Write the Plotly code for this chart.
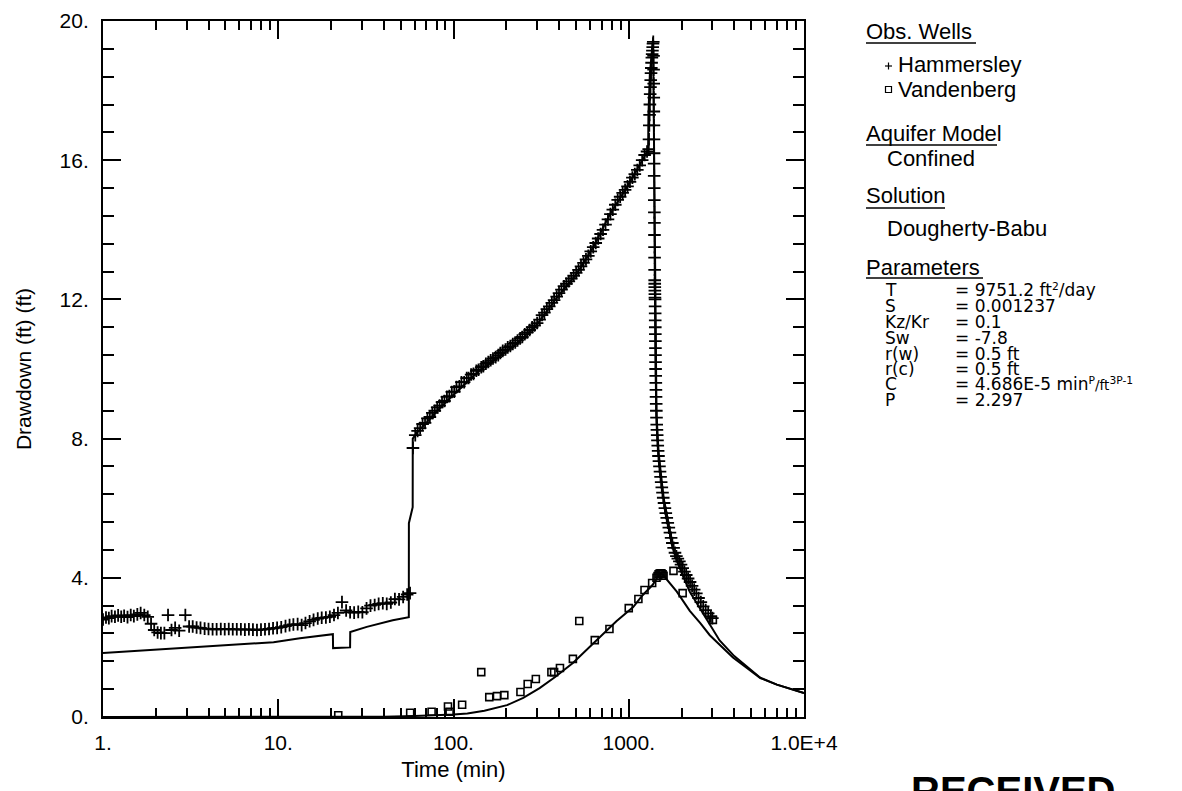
import plotly.graph_objects as go

# ---------------- data ----------------
ham_t = [1.00, 1.04, 1.08, 1.12, 1.17, 1.22, 1.27, 1.32, 1.38, 1.44, 1.50, 1.57, 1.64, 1.72, 1.80,
         1.88, 1.96, 2.05, 2.14, 2.24, 2.35, 2.46, 2.58, 2.72, 2.95, 3.10, 3.25, 3.42, 3.60, 3.80,
         4.00, 4.22, 4.45, 4.70, 4.95, 5.22, 5.50, 5.80, 6.12, 6.45, 6.80, 7.17, 7.56, 7.97, 8.40,
         8.86, 9.34, 9.85, 10.4, 11.0, 11.6, 12.2, 12.9, 13.6, 14.3, 15.1, 15.9, 16.8, 17.7, 18.7,
         19.7, 20.8, 21.9, 23.1, 24.4, 25.7, 27.1, 28.6, 30.2, 31.9, 33.6, 35.5, 37.4, 39.5, 41.6,
         43.9, 46.3, 48.9, 51.6, 54.4, 56.5,
         58.7, 60.5, 62.4, 64.5, 66.6, 68.8, 71.0, 73.3, 75.7, 78.2, 80.7, 83.3, 86.0, 88.8, 91.7,
         94.7, 97.8, 101, 104, 108, 111, 115, 119, 122, 126, 130, 135, 139, 144, 148, 153, 158,
         163, 168, 174, 180, 185, 191, 198, 204, 211, 218, 225, 232, 240, 247, 255, 264, 272, 281,
         290, 300, 310, 320, 330, 341, 352, 364, 375, 388, 400, 413, 427, 441, 455, 470, 485, 501,
         517, 534, 552, 570, 588, 607, 627, 648, 669, 691, 713, 737, 761, 786, 811, 838, 865, 893,
         923, 953, 984, 1016, 1049, 1083, 1119, 1155, 1193, 1232, 1272, 1300,
         1305, 1310, 1315, 1320, 1325, 1330, 1335, 1340, 1345, 1350, 1355, 1360, 1365, 1370, 1375,
         1380, 1385, 1386, 1388, 1389, 1390, 1392, 1393, 1395, 1396, 1397, 1398, 1399, 1400, 1401,
         1402, 1403, 1404, 1405, 1406, 1407, 1408, 1409, 1410, 1411, 1413, 1414, 1415, 1416, 1417,
         1418, 1419, 1420, 1421, 1422, 1423, 1425, 1427, 1429, 1431, 1434, 1437, 1440, 1444, 1448,
         1453, 1458, 1464, 1471, 1478, 1487, 1497, 1508, 1519, 1531, 1544, 1558, 1573, 1590, 1608,
         1627, 1648, 1670, 1693, 1718, 1745, 1773, 1803, 1836, 1870, 1906, 1945, 1987, 2031, 2078,
         2128, 2181, 2238, 2298, 2362, 2430, 2502, 2579, 2660, 2747, 2840, 2940, 3000]
ham_s = [2.80, 2.86, 2.84, 2.90, 2.88, 2.92, 2.88, 2.91, 2.87, 2.93, 2.90, 2.95, 2.99, 2.93, 2.88,
         2.68, 2.50, 2.43, 2.41, 2.41, 2.93, 2.50, 2.56, 2.48, 2.93, 2.60, 2.60, 2.57, 2.56, 2.54,
         2.53, 2.52, 2.52, 2.53, 2.52, 2.53, 2.52, 2.52, 2.52, 2.51, 2.52, 2.51, 2.50, 2.51, 2.52,
         2.53, 2.55, 2.56, 2.58, 2.61, 2.64, 2.66, 2.67, 2.64, 2.70, 2.75, 2.79, 2.83, 2.85, 2.86,
         2.88, 2.93, 2.99, 3.30, 3.06, 3.01, 3.00, 3.02, 3.01, 3.12, 3.20, 3.22, 3.25, 3.27, 3.25,
         3.29, 3.39, 3.38, 3.45, 3.52, 3.56,
         7.73, 8.10, 8.22, 8.30, 8.42, 8.45, 8.58, 8.62, 8.74, 8.80, 8.90, 8.95, 9.05, 9.08, 9.20,
         9.22, 9.34, 9.35, 9.48, 9.50, 9.62, 9.62, 9.74, 9.74, 9.84, 9.86, 9.95, 9.98, 10.05, 10.08,
         10.15, 10.20, 10.25, 10.30, 10.34, 10.40, 10.46, 10.52, 10.56, 10.62, 10.66, 10.72, 10.76,
         10.82, 10.88, 10.92, 11.00, 11.05, 11.12, 11.20, 11.25, 11.32, 11.42, 11.55, 11.62, 11.72,
         11.80, 11.90, 11.98, 12.08, 12.18, 12.28, 12.38, 12.45, 12.52, 12.60, 12.68, 12.76, 12.85,
         12.95, 13.05, 13.15, 13.25, 13.38, 13.50, 13.62, 13.75, 13.88, 14.00, 14.15, 14.30, 14.45,
         14.58, 14.72, 14.86, 14.95, 15.06, 15.15, 15.25, 15.38, 15.50, 15.60, 15.72, 15.85, 16.00,
         16.15, 16.25, 16.32,
         16.6, 17.0, 17.3, 17.6, 17.9, 18.1, 18.3, 18.5, 18.65, 18.8, 18.95, 19.05, 19.15, 19.25, 19.35,
         19.4, 19.0, 18.6, 18.2, 17.8, 17.4, 17.0, 16.6, 16.2, 15.9, 15.55, 15.2, 14.85, 14.5, 14.2,
         13.85, 13.5, 13.2, 12.85, 12.55, 12.45, 12.35, 12.25, 12.15, 12.05, 12.0, 11.8, 11.6, 11.4,
         11.2, 11.0, 10.8, 10.6, 10.4, 10.2, 10.0, 9.8, 9.6, 9.4, 9.2, 9.0, 8.8, 8.6, 8.4, 8.25,
         8.1, 7.95, 7.8, 7.65, 7.5, 7.35, 7.2, 7.05, 6.9, 6.75, 6.6, 6.45, 6.3, 6.15, 6.0,
         5.86, 5.72, 5.58, 5.44, 5.3, 5.15, 5.0, 4.86, 4.72, 4.62, 4.55, 4.47, 4.38, 4.28, 4.18,
         4.08, 3.98, 3.88, 3.77, 3.66, 3.55, 3.42, 3.30, 3.18, 3.07, 2.98, 2.89, 2.84]

van_t = [22, 56.6, 75, 93, 95, 112, 144, 160, 177, 195, 241, 265, 295, 362, 375, 405, 480, 522,
         640, 776, 1000, 1135, 1230, 1360, 1440, 1460, 1480, 1500, 1520, 1540, 1560, 1580, 1800,
         2030, 3020]
van_s = [0.05, 0.12, 0.15, 0.30, 0.15, 0.35, 1.29, 0.57, 0.60, 0.63, 0.72, 0.95, 1.09, 1.29, 1.29,
         1.41, 1.67, 2.76, 2.21, 2.53, 3.13, 3.39, 3.65, 3.85, 4.00, 4.05, 4.10, 4.12, 4.13, 4.12,
         4.10, 4.06, 4.20, 3.56, 2.79]

ham_model_t = [1, 2, 3.6, 6, 9.4, 13.3, 17.3, 20.5, 20.55, 25.7, 25.75, 32, 45, 55.6, 55.65, 58.5,
               58.55, 62, 70, 80, 95, 113, 140, 176, 229, 300, 389, 507, 627, 781, 975, 1150, 1290,
               1295, 1320, 1360, 1378, 1385, 1400, 1413, 1420, 1440, 1480, 1516, 1580, 1660, 1750,
               1880, 2000, 2230, 2560, 2900, 3300, 4000, 4700, 5630, 7000, 8500, 10000]
ham_model_s = [1.84, 1.93, 2.01, 2.08, 2.15, 2.26, 2.33, 2.38, 1.98, 2.00, 2.44, 2.59, 2.78, 2.87,
               5.57, 6.03, 8.00, 8.18, 8.45, 8.78, 9.15, 9.50, 9.95, 10.30, 10.72, 11.28, 12.05,
               12.75, 13.50, 14.45, 15.22, 15.85, 16.30, 17.3, 18.5, 19.2, 19.45, 18.0, 15.0, 12.5,
               10.0, 8.7, 7.6, 7.1, 6.3, 5.75, 5.0, 4.5, 4.15, 3.6, 3.1, 2.65, 2.2, 1.75, 1.45,
               1.13, 0.93, 0.80, 0.69]

van_model_t = [1, 20, 40, 60, 80, 100, 120, 150, 202, 250, 310, 380, 480, 580, 685, 850, 1060,
               1200, 1370, 1510, 1570, 1880, 2230, 2560, 2900, 3930, 4700, 5630, 7000, 8500, 10000]
van_model_s = [0.0, 0.0, 0.01, 0.03, 0.05, 0.07, 0.10, 0.18, 0.34, 0.55, 0.83, 1.15, 1.55, 1.95,
               2.30, 2.75, 3.16, 3.50, 3.80, 4.14, 4.08, 3.60, 3.05, 2.70, 2.35, 1.71, 1.42, 1.12,
               0.93, 0.79, 0.69]

x_tickvals = [1, 10, 100, 1000, 10000]
x_ticktext = ["1.", "10.", "100.", "1000.", "1.0E+4"]
y_tickvals = [0, 4, 8, 12, 16, 20]
y_ticktext = ["0.", "4.", "8.", "12.", "16.", "20."]

param_names = ["T", "S", "Kz/Kr", "Sw", "r(w)", "r(c)", "C", "P"]
param_values = ["= 9751.2 ft<span style='font-size:90%'><sup>2</sup></span>/day", "= 0.001237", "= 0.1",
                "= -7.8", "= 0.5 ft", "= 0.5 ft",
                "= 4.686E-5 min<span style='font-size:90%'><sup>P</sup></span>"
                "<span style='font-size:80%'>/ft</span><span style='font-size:90%'><sup>3P-1</sup></span>",
                "= 2.297"]

# ---------------- layout geometry (page pixels; the page body adds an 8px margin) ----------------
OFF = 8
W, H = 1182 - OFF, 791 - OFF
PL, PR, PT, PB = 103, 804, 21, 717          # plot box in page pixels
FONT = "Arial, Liberation Sans, Helvetica, sans-serif"
PFONT = "DejaVu Sans, Verdana, sans-serif"


def fx(x):
    return (x - PL) / (PR - PL)


def fy(y):
    return (PB - y) / (PB - PT)


fig = go.Figure()
fig.add_trace(go.Scatter(x=ham_model_t, y=ham_model_s, mode="lines",
                         line=dict(color="black", width=2), showlegend=False))
fig.add_trace(go.Scatter(x=van_model_t, y=van_model_s, mode="lines",
                         line=dict(color="black", width=2), showlegend=False))
fig.add_trace(go.Scatter(x=ham_t, y=ham_s, mode="markers", name="Hammersley",
                         marker=dict(symbol="cross-thin", size=9, color="black",
                                     line=dict(color="black", width=1.8)), showlegend=False))
fig.add_trace(go.Scatter(x=van_t, y=van_s, mode="markers", name="Vandenberg",
                         marker=dict(symbol="square-open", size=7, color="black",
                                     line=dict(color="black", width=1.6)), showlegend=False))

minor_x = [m * 10 ** d for d in range(4) for m in range(2, 10)]

fig.update_xaxes(type="log", range=[0, 4], showline=True, linewidth=2, linecolor="black",
                 mirror="ticks", ticks="inside", ticklen=18, tickwidth=2, tickcolor="black",
                 tickmode="array", tickvals=x_tickvals, ticktext=x_ticktext,
                 showgrid=False, zeroline=False, ticklabelstandoff=6,
                 tickfont=dict(family=FONT, size=21, color="black"),
                 minor=dict(tickmode="array", tickvals=minor_x, ticks="inside", ticklen=9,
                            tickwidth=1.5, tickcolor="black", showgrid=False),
                 title=dict(text="Time (min)", font=dict(family=FONT, size=22, color="black"),
                            standoff=8))
fig.update_yaxes(range=[0, 20], showline=True, linewidth=2, linecolor="black",
                 mirror="ticks", ticks="inside", ticklen=18, tickwidth=2, tickcolor="black",
                 tickmode="array", tickvals=y_tickvals, ticktext=y_ticktext,
                 showgrid=False, zeroline=False, ticklabelstandoff=8,
                 tickfont=dict(family=FONT, size=21, color="black"),
                 minor=dict(dtick=0.8, tick0=0, ticks="inside", ticklen=11,
                            tickwidth=1.5, tickcolor="black", showgrid=False),
                 title=dict(text="Drawdown (ft) (ft)", font=dict(family=FONT, size=21, color="black"),
                            standoff=22))

annotations = []
shapes = []


def add_text(x, y, text, size=22, anchor="left", family=FONT):
    annotations.append(dict(x=fx(x), y=fy(y), xref="paper", yref="paper", text=text,
                            showarrow=False, xanchor=anchor, yanchor="middle",
                            font=dict(family=family, size=size, color="black")))


def underline(x0, x1, y):
    shapes.append(dict(type="line", xref="paper", yref="paper", x0=fx(x0), x1=fx(x1),
                       y0=fy(y), y1=fy(y), line=dict(color="black", width=1.5)))


# section headers
add_text(864, 32, "Obs. Wells")
underline(866, 976, 43)
add_text(896, 65, "Hammersley")
add_text(896, 89, "Vandenberg")
add_text(864, 134, "Aquifer Model")
underline(866, 997, 145)
add_text(885, 158, "Confined")
add_text(864, 196, "Solution")
underline(866, 945, 208)
add_text(885, 229, "Dougherty-Babu")
add_text(864, 267, "Parameters")
underline(866, 983, 278)

# legend symbols
shapes.append(dict(type="line", xref="paper", yref="paper", x0=fx(885), x1=fx(892),
                   y0=fy(66), y1=fy(66), line=dict(color="black", width=1.2)))
shapes.append(dict(type="line", xref="paper", yref="paper", x0=fx(888.5), x1=fx(888.5),
                   y0=fy(62.5), y1=fy(69.5), line=dict(color="black", width=1.2)))
shapes.append(dict(type="rect", xref="paper", yref="paper", x0=fx(885.5), x1=fx(891.5),
                   y0=fy(86.5), y1=fy(92.5), line=dict(color="black", width=1.2)))

param_y = [290, 306, 322, 338, 354, 369, 384, 400]
for name, val, yy in zip(param_names, param_values, param_y):
    add_text(883, yy, name, size=17, family=PFONT)
    add_text(953, yy, val, size=17, family=PFONT)

# stamp at the bottom (cut by the page edge, as in the scan)
annotations.append(dict(x=fx(1013), y=fy(767), xref="paper", yref="paper", text="<b>RECEIVED</b>",
                        showarrow=False, xanchor="center", yanchor="top",
                        font=dict(family=FONT, size=40, color="black")))

fig.update_layout(width=W, height=H,
                  margin=dict(l=PL - OFF, r=W - (PR - OFF), t=PT - OFF, b=H - (PB - OFF),
                              autoexpand=False),
                  paper_bgcolor="white", plot_bgcolor="white",
                  annotations=annotations, shapes=shapes, showlegend=False)

fig.write_html("out.html")
